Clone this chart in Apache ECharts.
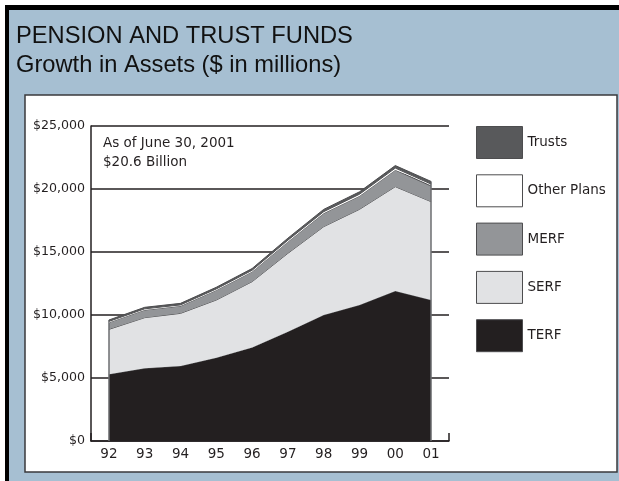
<!DOCTYPE html>
<html>
<head>
<meta charset="utf-8">
<script src="https://cdn.jsdelivr.net/npm/echarts@6/dist/echarts.min.js"></script>
<style>
html,body{margin:0;padding:0;background:#fff;}
#c{width:619px;height:481px;}
</style>
</head>
<body>
<div id="c"></div>
<script>
var years = ['92','93','94','95','96','97','98','99','00','01'];
var terf   = [5300, 5770, 5950, 6610, 7430, 8680, 10000, 10790, 11900, 11190];
var serf   = [3560, 4020, 4180, 4580, 5215, 6216, 7011, 7597, 8286, 7805];
var merf   = [553, 609, 583, 780, 792, 922, 1061, 1059, 1323, 1244];
var other  = [80, 90, 90, 100, 110, 120, 130, 140, 150, 150];
var trusts = [110, 120, 120, 130, 140, 160, 180, 190, 200, 210];
var yTicks = [0, 5000, 10000, 15000, 20000, 25000];
var titleLines = ['PENSION AND TRUST FUNDS', 'Growth in Assets ($ in millions)'];
var noteLines = ['As of June 30, 2001', '$20.6 Billion'];

var totals = years.map(function(_, i){ return terf[i]+serf[i]+merf[i]+other[i]+trusts[i]; });
var last = years.length - 1;

var ink = '#231f20';
var edge = '#4d4d4f';
var font = 'DejaVu Sans';

var seriesDefs = [
  {name:'TERF', data:terf, color:'#231f20'},
  {name:'SERF', data:serf, color:'#e1e2e4'},
  {name:'MERF', data:merf, color:'#939598'},
  {name:'Other Plans', data:other, color:'#ffffff'},
  {name:'Trusts', data:trusts, color:'#58595b'}
];

var series = seriesDefs.map(function(s, idx){
  var o = {
    name: s.name, type:'line', stack:'total', data:s.data,
    symbol:'none', showSymbol:false, smooth:false,
    itemStyle:{color:s.color},
    lineStyle:{color:edge, width:1},
    areaStyle:{color:s.color, opacity:1},
    emphasis:{disabled:true},
    z: 2 + idx
  };
  if (idx === seriesDefs.length - 1) {
    o.markLine = {
      silent:true, symbol:'none', label:{show:false},
      lineStyle:{color:'#6d6e71', width:1.5, type:'solid'},
      data:[
        [{coord:[years[0], 0]}, {coord:[years[0], totals[0]]}],
        [{coord:[years[last], 0]}, {coord:[years[last], totals[last]]}]
      ]
    };
  }
  return o;
});

var legendOrder = seriesDefs.slice().reverse().map(function(s){
  return {name:s.name, itemStyle:{color:s.color, borderColor:edge, borderWidth:1}};
});

var chart = echarts.init(document.getElementById('c'), null, {renderer:'canvas'});
chart.setOption({
  animation:false,
  backgroundColor:'transparent',
  graphic:[
    {type:'rect', silent:true, z:-10, shape:{x:5, y:5, width:614, height:476}, style:{fill:'#000'}},
    {type:'rect', silent:true, z:-9, shape:{x:9, y:10, width:610, height:471}, style:{fill:'#a6bfd2'}},
    {type:'rect', silent:true, z:-8, shape:{x:25, y:95, width:592, height:377}, style:{fill:'#fff', stroke:'#3a3a3c', lineWidth:1.5}},
    {type:'text', silent:true, left:16, top:24, style:{text:titleLines[0], font:'23.7px "Liberation Sans", Arial, sans-serif', fill:'#111'}},
    {type:'text', silent:true, left:16, top:53, style:{text:titleLines[1], font:'23.7px "Liberation Sans", Arial, sans-serif', fill:'#111'}},
    {type:'text', silent:true, z:50, left:103, top:136, style:{text:noteLines[0], font:'13.5px "DejaVu Sans"', fill:ink}},
    {type:'text', silent:true, z:50, left:103, top:155, style:{text:noteLines[1], font:'13.5px "DejaVu Sans"', fill:ink}}
  ],
  legend:{
    orient:'vertical', left:476, top:126, padding:0,
    itemWidth:46, itemHeight:32, itemGap:15.3,
    icon:'rect', selectedMode:false,
    textStyle:{fontFamily:font, fontSize:13.5, color:ink},
    data:legendOrder
  },
  grid:{left:91, right:170, top:126, bottom:40, containLabel:false},
  xAxis:{
    type:'category', data:years, boundaryGap:true,
    axisLine:{show:true, lineStyle:{color:ink, width:1.5}},
    axisTick:{show:true, inside:true, length:8, interval:function(i){ return i === last; }, lineStyle:{color:ink, width:1.5}},
    axisLabel:{fontFamily:font, fontSize:13.5, color:ink, margin:6},
    splitLine:{show:false}
  },
  yAxis:{
    type:'value', min:yTicks[0], max:yTicks[yTicks.length-1], interval:yTicks[1]-yTicks[0],
    axisLine:{show:true, lineStyle:{color:ink, width:1.5}},
    axisTick:{show:false},
    axisLabel:{fontFamily:font, fontSize:12.6, color:ink, margin:6,
      formatter:function(v){ return '$' + v.toLocaleString('en-US'); }},
    splitLine:{show:true, lineStyle:{color:ink, width:1.5}}
  },
  series:series
});
</script>
</body>
</html>
